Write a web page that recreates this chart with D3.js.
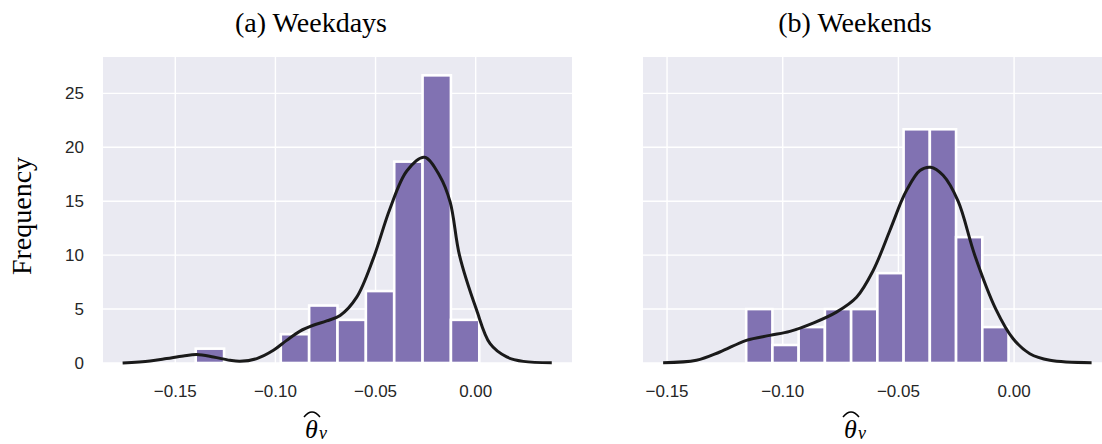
<!DOCTYPE html>
<html>
<head>
  <meta charset="utf-8">
  <title>Weekdays / Weekends histograms</title>
  <script src="https://d3js.org/d3.v7.min.js"></script>
  <style>
    body { margin: 0; background: #fff; }
    svg  { display: block; }
    .tick-label { font-family: "Liberation Sans", Arial, sans-serif; font-size: 17px; fill: #262626; }
    .serif { font-family: "Liberation Serif", "Times New Roman", serif; fill: #000; }
  </style>
</head>
<body>
<svg id="chart" width="1102" height="444"></svg>
<script>
// ---- data ----
var panelTitles = ["(a) Weekdays", "(b) Weekends"];
var xTicks = [-0.15, -0.10, -0.05, 0.00];
var yTicks = [0, 5, 10, 15, 20, 25];

// histogram bins: first edge + bin width, heights per bin
var weekdayBinStart = -0.1398, weekdayBinWidth = 0.01416;
var weekdayHeights = [1.33, 0, 0, 2.67, 5.33, 4.0, 6.67, 18.67, 26.67, 4.0];
var weekendBinStart = -0.1158, weekendBinWidth = 0.01134;
var weekendHeights = [5.0, 1.67, 3.33, 5.0, 5.0, 8.33, 21.67, 21.67, 11.67, 3.33];

// kde curves, [x, y] pairs
var weekdayKde = [
  [-0.1763, 0.0], [-0.1626, 0.19], [-0.1543, 0.41], [-0.146, 0.65], [-0.1393, 0.78],
  [-0.131, 0.56], [-0.1227, 0.25], [-0.1177, 0.16], [-0.1093, 0.41], [-0.101, 1.18],
  [-0.0944, 2.1], [-0.0877, 2.96], [-0.0811, 3.5], [-0.0744, 3.9], [-0.0677, 4.41],
  [-0.0594, 6.11], [-0.0511, 9.7], [-0.0428, 14.3], [-0.0344, 17.8], [-0.0256, 19.07],
  [-0.0178, 17.3], [-0.0127, 14.9], [-0.0081, 10.0], [0.0003, 5.0], [0.0072, 1.79],
  [0.0155, 0.56], [0.0238, 0.15], [0.038, 0.02]
];
var weekendKde = [
  [-0.1517, 0.03], [-0.1373, 0.25], [-0.1272, 1.02], [-0.1157, 2.1], [-0.1056, 2.56],
  [-0.0969, 2.93], [-0.0869, 3.7], [-0.0768, 4.72], [-0.0681, 6.1], [-0.0609, 8.58],
  [-0.0537, 12.28], [-0.0487, 15.0], [-0.0465, 16.0], [-0.0407, 17.84], [-0.0361, 18.15],
  [-0.0307, 17.4], [-0.0242, 15.0], [-0.017, 10.0], [-0.0079, 5.0], [-0.0004, 2.25],
  [0.0068, 0.86], [0.0155, 0.25], [0.0335, 0.03]
];

// ---- layout ----
var svg = d3.select("#chart");
var plotTop = 57, plotBottom = 363;
var panels = [
  { left: 103, right: 572, domain: [-0.1861, 0.0481], start: weekdayBinStart, width: weekdayBinWidth,
    heights: weekdayHeights, kde: weekdayKde, titleX: 311, labelX: 316, yAxis: true },
  { left: 643, right: 1102, domain: [-0.1604, 0.0380], start: weekendBinStart, width: weekendBinWidth,
    heights: weekendHeights, kde: weekendKde, titleX: 855, labelX: 855, yAxis: false }
];

var y = d3.scaleLinear().domain([0, 28.37]).range([plotBottom, plotTop]);
var fmt = d3.format(".2f");

panels.forEach(function(p, i) {
  var x = d3.scaleLinear().domain(p.domain).range([p.left, p.right]);
  var g = svg.append("g");

  // background
  g.append("rect")
    .attr("x", p.left).attr("y", plotTop)
    .attr("width", p.right - p.left).attr("height", plotBottom - plotTop)
    .attr("fill", "#eaeaf2");

  // grid
  g.selectAll(".hg").data(yTicks).enter().append("line")
    .attr("x1", p.left).attr("x2", p.right)
    .attr("y1", d => y(d)).attr("y2", d => y(d))
    .attr("stroke", "#fff").attr("stroke-width", 1.4);
  g.selectAll(".vg").data(xTicks).enter().append("line")
    .attr("x1", d => x(d)).attr("x2", d => x(d))
    .attr("y1", plotTop).attr("y2", plotBottom)
    .attr("stroke", "#fff").attr("stroke-width", 1.4);

  // bars
  var bins = p.heights.map((h, k) => ({ x0: p.start + k * p.width, x1: p.start + (k + 1) * p.width, h: h }))
    .filter(b => b.h > 0);
  g.selectAll(".bar").data(bins).enter().append("rect")
    .attr("x", d => x(d.x0)).attr("width", d => x(d.x1) - x(d.x0))
    .attr("y", d => y(d.h)).attr("height", d => y(0) - y(d.h))
    .attr("fill", "#8172b2").attr("stroke", "#fff").attr("stroke-width", 2.6);

  // kde
  var line = d3.line().x(d => x(d[0])).y(d => y(d[1])).curve(d3.curveCatmullRom.alpha(0.5));
  g.append("path").datum(p.kde)
    .attr("d", line)
    .attr("fill", "none").attr("stroke", "#1a1a1a").attr("stroke-width", 3);

  // x tick labels
  g.selectAll(".xt").data(xTicks).enter().append("text")
    .attr("class", "tick-label")
    .attr("x", d => x(d)).attr("y", 397)
    .attr("text-anchor", "middle")
    .text(d => fmt(d));

  // y tick labels
  if (p.yAxis) {
    g.selectAll(".yt").data(yTicks).enter().append("text")
      .attr("class", "tick-label")
      .attr("x", 84).attr("y", d => y(d) + 6)
      .attr("text-anchor", "end")
      .text(d => d);
  }

  // title
  svg.append("text").attr("class", "serif")
    .attr("x", p.titleX).attr("y", 32)
    .attr("text-anchor", "middle").style("font-size", "28px")
    .text(panelTitles[i]);

  // x label: theta hat sub v
  var lab = svg.append("g").attr("transform", "translate(" + (p.labelX - 11) + ",438)");
  lab.append("text").attr("class", "serif")
    .style("font-size", "26px").style("font-style", "italic")
    .attr("x", 0).attr("y", 0)
    .text("θ");
  lab.append("text").attr("class", "serif")
    .style("font-size", "18px").style("font-style", "italic")
    .attr("x", 14).attr("y", 1)
    .text("v");
  lab.append("path")
    .attr("d", "M-1,-21 Q7,-31 15,-21")
    .attr("fill", "none").attr("stroke", "#000").attr("stroke-width", 1.5);
});

// y label
svg.append("text").attr("class", "serif")
  .attr("transform", "translate(31,216) rotate(-90)")
  .attr("text-anchor", "middle").style("font-size", "28px")
  .text("Frequency");
</script>
</body>
</html>
